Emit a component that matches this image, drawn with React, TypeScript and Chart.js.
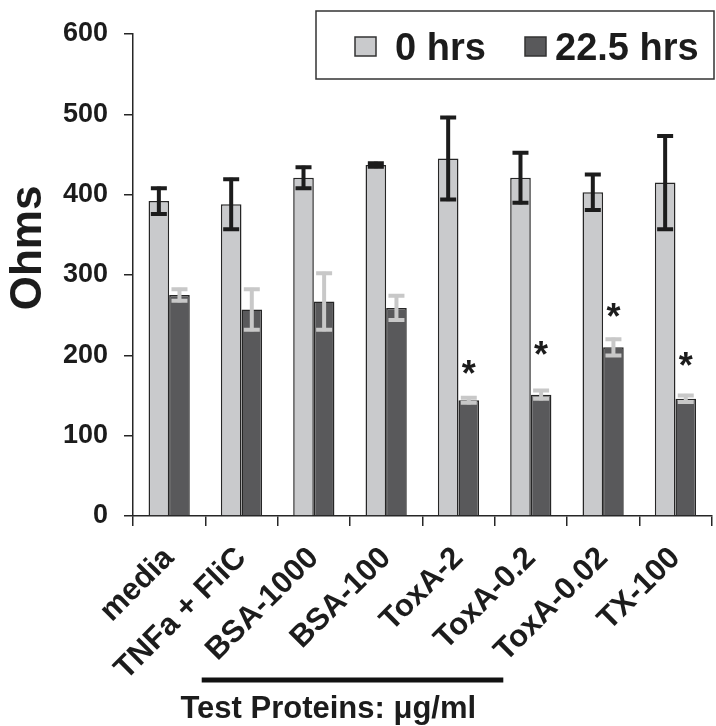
import React, { useEffect, useRef } from 'react';
import { Chart, registerables } from 'chart.js';

Chart.register(...registerables);

const categories = ['media', 'TNFa + FliC', 'BSA-1000', 'BSA-100', 'ToxA-2', 'ToxA-0.2', 'ToxA-0.02', 'TX-100'];
const seriesNames = ['0 hrs', '22.5 hrs'];
const hrs0 = [392, 388, 421, 437, 445, 421, 403, 415];
const hrs0Err = [18, 33, 15, 4, 53, 33, 24, 60];
const hrs22 = [275, 257, 267, 259, 144, 151, 210, 146];
const hrs22Err = [9, 27, 37, 17, 5, 7, 12, 6];
const asteriskAt: (number | null)[] = [null, null, null, null, 185, 209, 257, 196];
const yMin = 0;
const yMax = 600;
const yStep = 100;
const yTitle = 'Ohms';
const groupLabel = 'Test Proteins: \u03bcg/ml';
const groupFrom = 0.45;
const groupTo = 4.62;

const FONT = '"Liberation Sans", Arial, Helvetica, sans-serif';
const LIGHT = '#c9cacc';
const DARK = '#59595b';
const EDGE = '#262626';

const overlay = {
  id: 'overlay',
  afterDatasetsDraw(chart: any) {
    const ctx = chart.ctx;
    const ys = chart.scales.y;
    const xs = chart.scales.x;
    const errs = [hrs0Err, hrs22Err];
    const vals = [hrs0, hrs22];
    const errColors = ['#1c1c1c', '#c8c8c8'];
    ctx.save();
    for (let d = 0; d < 2; d++) {
      const meta = chart.getDatasetMeta(d);
      meta.data.forEach((bar: any, i: number) => {
        const v = vals[d][i];
        const e = errs[d][i];
        const top = ys.getPixelForValue(v + e);
        const bot = ys.getPixelForValue(v - e);
        const x = bar.x;
        ctx.strokeStyle = errColors[d];
        ctx.lineWidth = 4;
        ctx.lineCap = 'butt';
        ctx.beginPath();
        ctx.moveTo(x, top);
        ctx.lineTo(x, bot);
        ctx.stroke();
        ctx.beginPath();
        ctx.moveTo(x - 8, top + 1.5);
        ctx.lineTo(x + 8, top + 1.5);
        ctx.moveTo(x - 8, bot - 1.5);
        ctx.lineTo(x + 8, bot - 1.5);
        ctx.stroke();
      });
    }
    // asterisks
    const m1 = chart.getDatasetMeta(1);
    ctx.fillStyle = '#1c1c1c';
    ctx.font = `bold 36px ${FONT}`;
    ctx.textAlign = 'center';
    ctx.textBaseline = 'alphabetic';
    asteriskAt.forEach((a, i) => {
      if (a == null) return;
      const y = ys.getPixelForValue(a);
      ctx.fillText('*', m1.data[i].x, y + 19);
    });

    // y title
    ctx.save();
    ctx.translate(29, 248);
    ctx.rotate(-Math.PI / 2);
    ctx.font = `bold 44px ${FONT}`;
    ctx.textAlign = 'center';
    ctx.textBaseline = 'middle';
    ctx.fillStyle = '#1c1c1c';
    ctx.fillText(yTitle, 0, 0);
    ctx.restore();

    // group bracket line and label
    const gx1 = xs.getPixelForValue(groupFrom);
    const gx2 = xs.getPixelForValue(groupTo);
    ctx.strokeStyle = '#111';
    ctx.lineWidth = 5;
    ctx.beginPath();
    ctx.moveTo(gx1, 680);
    ctx.lineTo(gx2, 680);
    ctx.stroke();
    ctx.font = `bold 31px ${FONT}`;
    ctx.textAlign = 'center';
    ctx.textBaseline = 'alphabetic';
    ctx.fillStyle = '#1c1c1c';
    ctx.fillText(groupLabel, xs.getPixelForValue(2.2), 718);

    // legend
    ctx.strokeStyle = '#333';
    ctx.lineWidth = 1.5;
    ctx.fillStyle = '#fff';
    ctx.fillRect(316, 11, 398, 68);
    ctx.strokeRect(316, 11, 398, 68);
    const sw = [
      { x: 355, fill: LIGHT, tx: 395 },
      { x: 525, fill: DARK, tx: 555 },
    ];
    ctx.font = `bold 38px ${FONT}`;
    ctx.textAlign = 'left';
    ctx.textBaseline = 'alphabetic';
    sw.forEach((s, i) => {
      ctx.fillStyle = s.fill;
      ctx.fillRect(s.x, 37, 21, 19);
      ctx.strokeStyle = '#333';
      ctx.lineWidth = 1.5;
      ctx.strokeRect(s.x, 37, 21, 19);
      ctx.fillStyle = '#1c1c1c';
      ctx.fillText(seriesNames[i], s.tx, 60);
    });
    ctx.restore();
  },
};

export default function App() {
  const ref = useRef<HTMLCanvasElement | null>(null);
  useEffect(() => {
    if (!ref.current) return;
    const chart = new Chart(ref.current, {
      type: 'bar',
      data: {
        labels: categories,
        datasets: [
          { label: seriesNames[0], data: hrs0, backgroundColor: LIGHT, borderColor: EDGE, borderWidth: 1.5 },
          { label: seriesNames[1], data: hrs22, backgroundColor: DARK, borderColor: EDGE, borderWidth: 1.5 },
        ],
      },
      options: {
        responsive: false,
        animation: false,
        devicePixelRatio: 1,
        layout: { padding: { top: 34, right: 4, left: 0, bottom: 0 } },
        datasets: { bar: { categoryPercentage: 0.57, barPercentage: 1.0 } },
        plugins: { legend: { display: false }, tooltip: { enabled: false } },
        scales: {
          x: {
            grid: { display: true, drawOnChartArea: false, offset: true, tickLength: 10, color: EDGE, lineWidth: 1.5 },
            border: { display: true, color: EDGE, width: 1.5 },
            ticks: {
              autoSkip: false,
              maxRotation: 45,
              minRotation: 45,
              padding: 14,
              color: '#1c1c1c',
              font: { family: FONT, size: 31, weight: 'bold' },
            },
            afterFit(s: any) { s.height = 210; },
          },
          y: {
            min: yMin,
            max: yMax,
            ticks: { stepSize: yStep, padding: 16, color: '#1c1c1c', font: { family: FONT, size: 27, weight: 'bold' } },
            grid: { display: true, drawOnChartArea: false, tickLength: 9, color: EDGE, lineWidth: 1.5 },
            border: { display: true, color: EDGE, width: 1.5 },
            afterFit(s: any) { s.width = 133; },
          },
        },
      },
      plugins: [overlay],
    } as any);
    return () => chart.destroy();
  }, []);
  return (
    <div style={{ position: 'absolute', left: 0, top: 0, width: 716, height: 726, background: '#fff' }}>
      <canvas ref={ref} width={716} height={726} />
    </div>
  );
}
